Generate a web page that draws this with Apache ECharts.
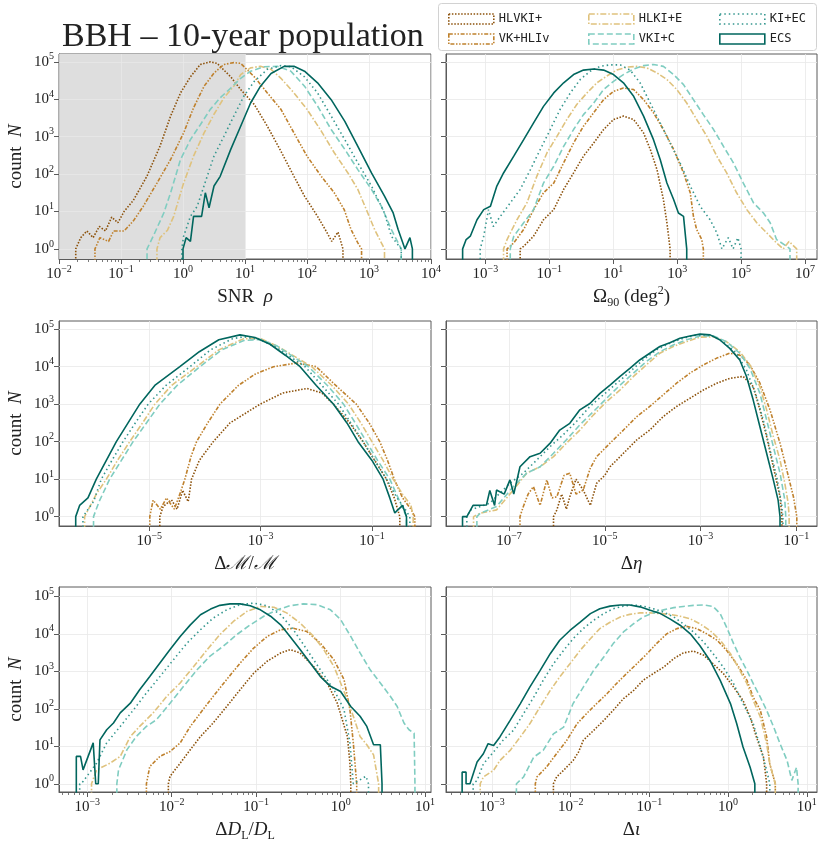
<!DOCTYPE html>
<html>
<head>
<meta charset="utf-8">
<script src="https://cdn.jsdelivr.net/npm/echarts@6.0.0/dist/echarts.min.js"></script>
<style>html,body{margin:0;padding:0;background:#fff}#main{width:822px;height:848px}</style>
</head>
<body>
<div id="main"></div>
<script>
// all values are log10: [log10(x), log10(count)]
var names  = ['HLVKI+', 'VK+HLIv', 'HLKI+E', 'VKI+C', 'KI+EC', 'ECS'];
var colors = ['#8c510a', '#bf812d', '#dfc27d', '#80cdc1', '#35978f', '#01665e'];
var dashes = [[1.5, 1.6], [4, 1.6, 1.5, 1.6, 1.5, 1.6], [6, 2, 1.5, 2], [6, 3], [1.5, 3], 'solid'];

var yTicks     = [0, 1, 2, 3, 4, 5];
var snrTicks   = [-2, -1, 0, 1, 2, 3, 4];
var omegaTicks = [-3, -1, 1, 3, 5, 7];
var mcTicks    = [-5, -3, -1];
var etaTicks   = [-7, -5, -3, -1];
var dlTicks    = [-3, -2, -1, 0, 1];
var iotaTicks  = [-3, -2, -1, 0, 1];

// SNR
var snr_HLVKI = [[-1.73,0],[-1.65,0.3],[-1.55,0.48],[-1.45,0.3],[-1.35,0.6],[-1.25,0.48],[-1.15,0.85],[-1.05,0.7],[-0.95,1.0],[-0.8,1.3],[-0.58,1.95],[-0.37,2.75],[-0.2,3.55],[-0.04,4.17],[0.12,4.6],[0.28,4.93],[0.44,5.0],[0.55,4.96],[0.77,4.6],[0.93,4.26],[1.15,3.86],[1.36,3.28],[1.58,2.61],[1.79,1.94],[1.96,1.41],[2.17,0.87],[2.3,0.5],[2.4,0.2],[2.5,0.45],[2.58,0]];
var snr_VKHLIv = [[-1.42,0],[-1.34,0.3],[-1.2,0.2],[-1.12,0.48],[-0.95,0.48],[-0.8,0.75],[-0.64,1.14],[-0.42,1.76],[-0.2,2.39],[0.01,3.1],[0.17,3.77],[0.34,4.35],[0.5,4.7],[0.66,4.93],[0.82,4.98],[0.93,4.96],[1.15,4.6],[1.36,4.17],[1.58,3.73],[1.79,3.1],[2.0,2.48],[2.23,1.94],[2.44,1.5],[2.6,1.05],[2.71,0.52],[2.82,0.16],[2.88,0]];
var snr_HLKIE = [[-0.42,0],[-0.37,0.3],[-0.25,0.5],[-0.15,0.87],[0.01,1.76],[0.17,2.48],[0.34,3.1],[0.5,3.6],[0.66,4.04],[0.82,4.35],[0.93,4.66],[1.09,4.84],[1.25,4.88],[1.42,4.8],[1.58,4.56],[1.79,4.17],[2.0,3.73],[2.23,3.15],[2.44,2.57],[2.66,2.03],[2.82,1.59],[2.98,0.96],[3.09,0.52],[3.2,0.16],[3.25,0]];
var snr_VKIC = [[-0.58,0],[-0.48,0.34],[-0.31,0.96],[-0.2,1.5],[-0.04,2.39],[0.12,2.92],[0.28,3.32],[0.44,3.73],[0.6,4.04],[0.77,4.3],[0.93,4.56],[1.09,4.75],[1.31,4.87],[1.52,4.88],[1.74,4.75],[1.96,4.35],[2.17,3.82],[2.39,3.19],[2.61,2.66],[2.82,2.12],[3.04,1.59],[3.2,1.14],[3.36,0.52],[3.47,0.16],[3.52,0]];
var snr_KIEC = [[-0.02,0],[0.01,0.34],[0.12,0.87],[0.23,1.14],[0.39,1.94],[0.5,2.48],[0.66,3.01],[0.82,3.55],[0.98,4.08],[1.15,4.48],[1.36,4.8],[1.58,4.9],[1.74,4.87],[1.96,4.6],[2.17,4.17],[2.39,3.55],[2.61,2.92],[2.82,2.3],[3.04,1.68],[3.25,0.96],[3.36,0.34],[3.52,0]];
var snr_ECS = [[0.0,0],[0.05,0.3],[0.12,0.2],[0.17,0.87],[0.3,0.87],[0.36,1.5],[0.42,1.1],[0.5,1.68],[0.6,1.94],[0.77,2.66],[0.93,3.28],[1.09,3.9],[1.25,4.35],[1.42,4.69],[1.63,4.88],[1.79,4.88],[1.96,4.75],[2.17,4.44],[2.39,3.99],[2.61,3.41],[2.82,2.74],[3.04,2.03],[3.25,1.41],[3.39,0.96],[3.47,0.52],[3.58,0],[3.66,0.3],[3.7,0]];

// Omega_90
var om_HLVKI = [[-1.91,0],[-1.8,0.07],[-1.49,0.34],[-1.18,0.78],[-0.86,1.05],[-0.55,1.59],[-0.24,2.03],[0.07,2.48],[0.39,2.83],[0.7,3.19],[1.01,3.46],[1.32,3.55],[1.64,3.46],[1.95,3.1],[2.16,2.66],[2.37,2.12],[2.57,1.32],[2.68,0.7],[2.78,0]];
var om_VKHLIv = [[-2.32,0],[-2.11,0.16],[-1.8,0.52],[-1.49,1.05],[-1.18,1.5],[-0.86,1.76],[-0.55,2.3],[-0.24,2.83],[0.07,3.28],[0.39,3.64],[0.7,3.99],[1.01,4.21],[1.32,4.3],[1.64,4.26],[1.95,3.99],[2.26,3.64],[2.57,3.19],[2.89,2.66],[3.2,2.03],[3.41,1.5],[3.51,0.87],[3.61,0.52],[3.77,0.25],[3.82,0]];
var om_HLKIE = [[-2.43,0],[-2.32,0.25],[-2.01,0.78],[-1.7,1.23],[-1.39,1.94],[-1.07,2.57],[-0.76,3.01],[-0.45,3.46],[-0.14,3.86],[0.18,4.17],[0.49,4.44],[0.8,4.62],[1.11,4.78],[1.43,4.86],[1.74,4.88],[2.05,4.84],[2.36,4.71],[2.68,4.53],[2.99,4.26],[3.3,3.9],[3.61,3.46],[3.93,3.01],[4.24,2.48],[4.55,2.03],[4.86,1.5],[5.18,1.05],[5.49,0.7],[5.8,0.43],[6.11,0.16],[6.32,0],[6.5,0.2],[6.74,0]];
var om_VKIC = [[-2.22,0],[-2.11,0.34],[-1.8,0.7],[-1.49,1.05],[-1.18,1.76],[-0.86,2.21],[-0.55,2.74],[-0.24,3.19],[0.07,3.59],[0.39,3.9],[0.7,4.26],[1.01,4.48],[1.32,4.66],[1.64,4.81],[1.95,4.9],[2.26,4.93],[2.57,4.88],[2.89,4.66],[3.2,4.39],[3.51,3.99],[3.82,3.59],[4.14,3.19],[4.45,2.74],[4.76,2.3],[5.07,1.76],[5.39,1.23],[5.7,0.96],[5.91,0.7],[6.11,0.25],[6.43,0.07],[6.53,0]];
var om_KIEC = [[-3.16,0],[-3.05,0.34],[-2.9,1.05],[-2.75,0.6],[-2.53,0.87],[-2.22,1.23],[-1.91,1.59],[-1.59,2.12],[-1.28,2.66],[-0.97,3.19],[-0.66,3.73],[-0.34,4.17],[-0.03,4.53],[0.28,4.75],[0.59,4.88],[0.91,4.92],[1.22,4.92],[1.53,4.78],[1.84,4.44],[2.16,3.9],[2.47,3.37],[2.78,2.83],[3.09,2.3],[3.41,1.68],[3.72,1.14],[4.03,0.78],[4.24,0.43],[4.4,0],[4.6,0.3],[4.75,0],[4.9,0.3],[5.0,0]];
var om_ECS = [[-3.71,0],[-3.6,0.25],[-3.47,0.34],[-3.26,0.78],[-3.05,1.05],[-2.84,1.14],[-2.64,1.68],[-2.43,2.03],[-2.11,2.48],[-1.8,2.92],[-1.49,3.37],[-1.18,3.81],[-0.86,4.17],[-0.55,4.44],[-0.24,4.66],[0.07,4.78],[0.39,4.81],[0.7,4.78],[1.01,4.66],[1.32,4.44],[1.64,4.08],[1.95,3.55],[2.26,2.92],[2.47,2.39],[2.68,1.76],[2.89,1.32],[3.04,0.96],[3.1,1.0],[3.2,0.87],[3.3,0]];

// Delta M / M
var mc_HLVKI = [[-4.81,0],[-4.75,0.27],[-4.6,0.45],[-4.5,0.2],[-4.4,0.7],[-4.3,0.4],[-4.24,1.0],[-4.1,1.5],[-3.85,2.0],[-3.55,2.5],[-3.01,3.0],[-2.6,3.3],[-2.17,3.42],[-1.9,3.3],[-1.69,3.0],[-1.4,2.5],[-1.16,2.0],[-0.95,1.5],[-0.74,1.0],[-0.6,0.5],[-0.5,0]];
var mc_VKHLIv = [[-4.99,0],[-4.93,0.44],[-4.8,0.2],[-4.69,0.5],[-4.55,0.2],[-4.45,0.6],[-4.36,1.0],[-4.25,1.6],[-4.15,2.0],[-3.95,2.5],[-3.73,3.0],[-3.4,3.5],[-3.1,3.8],[-2.77,4.0],[-2.35,4.1],[-2.0,4.0],[-1.65,3.5],[-1.28,3.0],[-1.05,2.5],[-0.86,2.0],[-0.72,1.5],[-0.6,1.0],[-0.45,0.5],[-0.3,0.2],[-0.23,0]];
var mc_HLKIE = [[-6.16,0],[-5.95,0.6],[-5.77,1.0],[-5.57,1.5],[-5.35,2.0],[-5.12,2.5],[-4.9,3.0],[-4.6,3.5],[-4.15,4.0],[-3.75,4.45],[-3.3,4.75],[-3.0,4.75],[-2.7,4.55],[-2.08,4.0],[-1.72,3.5],[-1.42,3.0],[-1.2,2.5],[-1.0,2.0],[-0.8,1.5],[-0.62,1.0],[-0.45,0.6],[-0.3,0.3],[-0.26,0]];
var mc_VKIC = [[-6.0,0],[-5.9,0.4],[-5.71,1.0],[-5.5,1.5],[-5.29,2.0],[-5.05,2.5],[-4.81,3.0],[-4.5,3.5],[-4.09,4.0],[-3.7,4.45],[-3.3,4.7],[-3.0,4.73],[-2.7,4.55],[-2.14,4.0],[-1.8,3.5],[-1.51,3.0],[-1.3,2.5],[-1.1,2.0],[-0.9,1.5],[-0.68,1.0],[-0.5,0.4],[-0.38,0]];
var mc_KIEC = [[-6.19,0],[-6.0,0.4],[-5.86,1.0],[-5.67,1.5],[-5.47,2.0],[-5.25,2.5],[-5.02,3.0],[-4.7,3.5],[-4.27,4.0],[-3.9,4.45],[-3.5,4.75],[-3.3,4.8],[-3.0,4.72],[-2.7,4.5],[-2.2,4.0],[-1.9,3.5],[-1.6,3.0],[-1.38,2.5],[-1.16,2.0],[-0.95,1.5],[-0.74,1.0],[-0.55,0.5],[-0.45,0.3],[-0.32,0]];
var mc_ECS = [[-6.32,0],[-6.25,0.3],[-6.1,0.5],[-5.95,1.0],[-5.77,1.5],[-5.59,2.0],[-5.38,2.5],[-5.17,3.0],[-4.9,3.5],[-4.45,4.0],[-4.1,4.4],[-3.75,4.72],[-3.37,4.85],[-3.1,4.78],[-2.83,4.6],[-2.55,4.3],[-2.29,4.0],[-2.0,3.5],[-1.69,3.0],[-1.45,2.5],[-1.25,2.0],[-1.0,1.5],[-0.8,1.0],[-0.68,0.5],[-0.59,0.1],[-0.45,0.3],[-0.38,0]];

// Delta eta
var eta_HLVKI = [[-6.07,0],[-6.0,0.18],[-5.9,0.6],[-5.8,0.2],[-5.73,0.53],[-5.6,1.0],[-5.45,0.71],[-5.3,0.3],[-5.17,0.89],[-5.0,1.1],[-4.89,1.33],[-4.61,1.69],[-4.33,2.05],[-4.06,2.31],[-3.78,2.67],[-3.5,2.94],[-3.22,3.16],[-2.94,3.38],[-2.66,3.56],[-2.39,3.69],[-2.11,3.74],[-1.9,3.47],[-1.76,2.85],[-1.62,2.14],[-1.48,1.33],[-1.34,0.53],[-1.3,0]];
var eta_VKHLIv = [[-6.77,0],[-6.7,0.27],[-6.6,0.6],[-6.49,0.8],[-6.35,0.3],[-6.21,0.98],[-6.1,0.5],[-6.0,0.53],[-5.85,1.1],[-5.73,1.16],[-5.6,0.6],[-5.45,0.71],[-5.3,1.3],[-5.17,1.6],[-4.89,1.96],[-4.61,2.31],[-4.33,2.67],[-4.06,2.94],[-3.78,3.25],[-3.5,3.56],[-3.22,3.83],[-2.94,4.05],[-2.66,4.23],[-2.39,4.36],[-2.18,4.31],[-1.97,4.05],[-1.76,3.56],[-1.55,2.85],[-1.34,1.96],[-1.2,1.25],[-1.06,0.53],[-0.99,0]];
var eta_HLKIE = [[-7.74,0],[-7.6,0.09],[-7.26,0.18],[-6.91,0.71],[-6.63,1.16],[-6.35,1.33],[-6.07,1.6],[-5.8,1.96],[-5.52,2.31],[-5.24,2.71],[-4.96,3.07],[-4.68,3.38],[-4.4,3.74],[-4.13,4.05],[-3.85,4.36],[-3.57,4.54],[-3.29,4.67],[-3.01,4.79],[-2.73,4.8],[-2.46,4.67],[-2.18,4.4],[-1.97,4.05],[-1.76,3.47],[-1.62,2.85],[-1.48,2.14],[-1.34,1.51],[-1.24,0.89],[-1.17,0.36],[-1.15,0]];
var eta_VKIC = [[-7.67,0],[-7.6,0.09],[-7.26,0.27],[-6.91,0.8],[-6.63,1.16],[-6.35,1.33],[-6.07,1.69],[-5.8,2.05],[-5.52,2.45],[-5.24,2.8],[-4.96,3.16],[-4.68,3.51],[-4.4,3.83],[-4.13,4.14],[-3.85,4.4],[-3.57,4.58],[-3.29,4.72],[-3.01,4.82],[-2.73,4.82],[-2.46,4.67],[-2.18,4.36],[-1.97,3.96],[-1.76,3.29],[-1.62,2.58],[-1.48,1.87],[-1.34,1.16],[-1.24,0.44],[-1.22,0]];
var eta_KIEC = [[-7.88,0],[-7.8,0.18],[-7.4,0.36],[-6.98,0.89],[-6.7,1.16],[-6.42,1.51],[-6.14,1.87],[-5.87,2.18],[-5.59,2.54],[-5.31,2.94],[-5.03,3.25],[-4.75,3.56],[-4.47,3.87],[-4.2,4.18],[-3.92,4.45],[-3.64,4.63],[-3.36,4.76],[-3.08,4.85],[-2.8,4.85],[-2.53,4.67],[-2.25,4.36],[-2.04,3.91],[-1.83,3.2],[-1.69,2.58],[-1.55,1.78],[-1.41,1.07],[-1.31,0.36],[-1.28,0]];
var eta_ECS = [[-7.97,0],[-7.88,0],[-7.75,0.3],[-7.47,0.31],[-7.4,0.7],[-7.3,0.3],[-7.26,0.71],[-7.1,0.6],[-6.98,0.98],[-6.9,0.6],[-6.77,1.33],[-6.56,1.6],[-6.35,1.69],[-6.14,1.96],[-5.94,2.31],[-5.73,2.49],[-5.52,2.85],[-5.31,3.02],[-5.1,3.29],[-4.89,3.51],[-4.68,3.74],[-4.47,3.96],[-4.27,4.18],[-4.06,4.36],[-3.85,4.54],[-3.64,4.64],[-3.43,4.76],[-3.22,4.82],[-3.01,4.87],[-2.8,4.85],[-2.6,4.72],[-2.39,4.49],[-2.18,4.18],[-2.04,3.74],[-1.9,3.11],[-1.76,2.4],[-1.62,1.69],[-1.48,0.98],[-1.38,0.44],[-1.34,0]];

// Delta D_L / D_L
var dl_HLVKI = [[-2.04,0],[-2.02,0.2],[-1.9,0.55],[-1.78,0.91],[-1.66,1.26],[-1.51,1.62],[-1.35,2.06],[-1.19,2.51],[-1.03,2.95],[-0.87,3.27],[-0.71,3.49],[-0.6,3.58],[-0.48,3.49],[-0.32,3.13],[-0.16,2.69],[-0.04,2.15],[0.08,1.26],[0.11,0.55],[0.12,0]];
var dl_VKHLIv = [[-2.3,0],[-2.26,0.46],[-2.14,0.73],[-2.02,0.86],[-1.9,1.09],[-1.78,1.53],[-1.66,1.89],[-1.51,2.33],[-1.35,2.78],[-1.19,3.22],[-1.03,3.62],[-0.87,3.93],[-0.71,4.11],[-0.56,4.15],[-0.4,4.06],[-0.24,3.75],[-0.08,3.31],[0.04,2.78],[0.11,1.98],[0.15,1.09],[0.19,0]];
var dl_HLKIE = [[-2.95,0],[-2.89,0.37],[-2.73,0.55],[-2.61,0.73],[-2.49,1.26],[-2.38,1.53],[-2.22,1.89],[-2.06,2.33],[-1.9,2.69],[-1.74,3.13],[-1.58,3.58],[-1.43,3.98],[-1.27,4.33],[-1.11,4.6],[-0.95,4.73],[-0.79,4.71],[-0.64,4.56],[-0.48,4.29],[-0.32,3.93],[-0.2,3.58],[-0.08,3.13],[0.0,2.69],[0.08,2.24],[0.15,1.8],[0.23,1.26],[0.31,1.04],[0.39,0.77],[0.45,0]];
var dl_VKIC = [[-2.65,0],[-2.63,0.37],[-2.53,0.91],[-2.42,1.26],[-2.3,1.53],[-2.18,1.71],[-2.02,2.15],[-1.86,2.6],[-1.7,3.04],[-1.55,3.4],[-1.39,3.67],[-1.23,3.98],[-1.07,4.24],[-0.91,4.47],[-0.75,4.64],[-0.6,4.75],[-0.44,4.8],[-0.28,4.78],[-0.12,4.64],[0.0,4.38],[0.12,3.93],[0.23,3.49],[0.35,3.04],[0.47,2.69],[0.59,2.33],[0.67,2.06],[0.75,1.62],[0.81,1.44],[0.87,1.35],[0.88,0]];
var dl_KIEC = [[-3.09,0],[-3.05,0.06],[-2.89,0.55],[-2.77,1.09],[-2.61,1.53],[-2.45,1.98],[-2.3,2.42],[-2.14,2.86],[-1.98,3.31],[-1.82,3.75],[-1.66,4.11],[-1.51,4.42],[-1.35,4.64],[-1.19,4.78],[-1.03,4.82],[-0.87,4.75],[-0.71,4.51],[-0.56,4.11],[-0.4,3.58],[-0.24,3.04],[-0.08,2.51],[0.04,1.98],[0.11,1.09],[0.15,0],[0.3,0.2],[0.33,0]];
var dl_ECS = [[-3.13,0],[-3.13,0.73],[-3.08,0.73],[-3.05,0.37],[-2.99,0.73],[-2.93,1.09],[-2.9,0],[-2.87,0],[-2.85,1.17],[-2.77,1.44],[-2.69,1.62],[-2.61,1.89],[-2.49,2.15],[-2.38,2.51],[-2.26,2.86],[-2.14,3.22],[-2.02,3.58],[-1.9,3.93],[-1.78,4.24],[-1.66,4.51],[-1.54,4.66],[-1.43,4.76],[-1.31,4.8],[-1.19,4.8],[-1.07,4.75],[-0.95,4.64],[-0.83,4.47],[-0.71,4.24],[-0.6,3.93],[-0.48,3.58],[-0.36,3.22],[-0.24,2.86],[-0.12,2.6],[0.0,2.46],[0.12,2.06],[0.23,1.8],[0.31,1.53],[0.39,1.04],[0.47,1.04],[0.49,0]];

// Delta iota
var io_HLVKI = [[-2.22,0],[-2.18,0.18],[-2.09,0.36],[-1.97,0.62],[-1.9,0.85],[-1.84,1.16],[-1.71,1.42],[-1.58,1.69],[-1.46,1.96],[-1.33,2.27],[-1.2,2.49],[-1.08,2.76],[-0.95,2.94],[-0.82,3.11],[-0.69,3.34],[-0.57,3.49],[-0.44,3.54],[-0.31,3.43],[-0.19,3.2],[-0.06,2.94],[0.07,2.58],[0.19,2.22],[0.28,1.78],[0.36,1.25],[0.45,0.71],[0.49,0]];
var io_VKHLIv = [[-2.45,0],[-2.43,0.18],[-2.31,0.44],[-2.18,0.8],[-2.05,1.16],[-1.92,1.6],[-1.8,1.87],[-1.67,2.14],[-1.54,2.4],[-1.42,2.67],[-1.29,2.94],[-1.16,3.2],[-1.03,3.47],[-0.91,3.74],[-0.78,4.0],[-0.65,4.14],[-0.53,4.2],[-0.4,4.14],[-0.27,4.0],[-0.14,3.83],[-0.02,3.56],[0.11,3.2],[0.24,2.76],[0.32,2.31],[0.41,1.96],[0.49,1.25],[0.53,0.53],[0.6,0]];
var io_HLKIE = [[-3.15,0],[-3.11,0.18],[-2.98,0.36],[-2.9,0.62],[-2.77,0.89],[-2.64,1.25],[-2.52,1.6],[-2.39,2.05],[-2.26,2.49],[-2.14,2.85],[-2.01,3.2],[-1.88,3.56],[-1.75,3.87],[-1.63,4.14],[-1.5,4.31],[-1.37,4.45],[-1.25,4.52],[-1.12,4.56],[-0.99,4.56],[-0.86,4.54],[-0.74,4.52],[-0.61,4.47],[-0.48,4.4],[-0.36,4.27],[-0.23,4.09],[-0.1,3.83],[0.03,3.47],[0.15,3.02],[0.24,2.67],[0.32,2.22],[0.41,1.78],[0.49,1.07],[0.53,0.53],[0.6,0]];
var io_VKIC = [[-2.69,0],[-2.6,0.18],[-2.47,0.71],[-2.35,0.89],[-2.22,1.33],[-2.09,1.51],[-1.97,2.14],[-1.84,2.58],[-1.71,3.02],[-1.58,3.38],[-1.46,3.74],[-1.33,4.05],[-1.2,4.27],[-1.08,4.45],[-0.95,4.56],[-0.82,4.64],[-0.69,4.7],[-0.57,4.73],[-0.44,4.76],[-0.31,4.77],[-0.19,4.73],[-0.1,4.54],[-0.02,4.18],[0.07,3.74],[0.15,3.38],[0.24,3.02],[0.32,2.67],[0.41,2.31],[0.49,1.96],[0.58,1.51],[0.66,1.07],[0.75,0.62],[0.81,0.09],[0.87,0.44],[0.89,0]];
var io_KIEC = [[-3.24,0],[-3.19,0.09],[-3.11,0.53],[-2.98,0.85],[-2.86,1.16],[-2.73,1.42],[-2.6,1.87],[-2.47,2.31],[-2.35,2.76],[-2.22,3.2],[-2.09,3.56],[-1.97,3.87],[-1.84,4.14],[-1.71,4.36],[-1.58,4.54],[-1.46,4.67],[-1.33,4.74],[-1.2,4.77],[-1.08,4.74],[-0.95,4.67],[-0.82,4.58],[-0.69,4.45],[-0.57,4.27],[-0.44,4.05],[-0.31,3.78],[-0.19,3.47],[-0.06,3.11],[0.07,2.67],[0.19,2.14],[0.32,1.6],[0.41,0.98],[0.49,0.36],[0.53,0]];
var io_ECS = [[-3.38,0],[-3.38,0.31],[-3.33,0.31],[-3.33,0],[-3.28,0],[-3.19,0.58],[-3.11,0.8],[-3.05,1.07],[-2.98,1.02],[-2.9,1.25],[-2.77,1.69],[-2.64,2.14],[-2.52,2.58],[-2.39,3.02],[-2.26,3.47],[-2.14,3.83],[-2.01,4.09],[-1.88,4.31],[-1.75,4.54],[-1.63,4.67],[-1.5,4.74],[-1.37,4.77],[-1.25,4.77],[-1.12,4.72],[-0.99,4.63],[-0.86,4.54],[-0.74,4.4],[-0.61,4.23],[-0.48,4.0],[-0.36,3.69],[-0.23,3.29],[-0.1,2.76],[0.03,2.14],[0.11,1.6],[0.19,0.98],[0.28,0.44],[0.34,0]];

var SERIF = 'Liberation Serif';
var INK = '#222';
var SPINE = '#5a5a5a';

var panels = [
    {left: 59,  top: 54,  xMin: -2,     xMax: 4,      yMin: -0.27, yMax: 5.21, ticks: snrTicks,   minor: true,  ylab: true,
     name: '{t|SNR  }{i|ρ}', shade: [-2, 1],
     data: [snr_HLVKI, snr_VKHLIv, snr_HLKIE, snr_VKIC, snr_KIEC, snr_ECS]},
    {left: 446, top: 54,  xMin: -4.23,  xMax: 7.375,  yMin: -0.27, yMax: 5.21, ticks: omegaTicks, minor: false, ylab: false,
     name: '{t|Ω}{sub|90}{t| (deg}{sup|2}{t|)}',
     data: [om_HLVKI, om_VKHLIv, om_HLKIE, om_VKIC, om_KIEC, om_ECS]},
    {left: 59,  top: 321, xMin: -6.62,  xMax: 0.06,   yMin: -0.25, yMax: 5.22, ticks: mcTicks,    minor: false, ylab: true,
     name: '{t|Δ}{i|ℳ}{t|/}{i|ℳ}',
     data: [mc_HLVKI, mc_VKHLIv, mc_HLKIE, mc_VKIC, mc_KIEC, mc_ECS]},
    {left: 446, top: 321, xMin: -8.315, xMax: -0.568, yMin: -0.25, yMax: 5.22, ticks: etaTicks,   minor: false, ylab: false,
     name: '{t|Δ}{i|η}',
     data: [eta_HLVKI, eta_VKHLIv, eta_HLKIE, eta_VKIC, eta_KIEC, eta_ECS]},
    {left: 59,  top: 587, xMin: -3.335, xMax: 1.07,   yMin: -0.22, yMax: 5.25, ticks: dlTicks,    minor: true,  ylab: true,
     name: '{t|Δ}{i|D}{sub|L}{t|/}{i|D}{sub|L}',
     data: [dl_HLVKI, dl_VKHLIv, dl_HLKIE, dl_VKIC, dl_KIEC, dl_ECS]},
    {left: 446, top: 587, xMin: -3.585, xMax: 1.13,   yMin: -0.22, yMax: 5.25, ticks: iotaTicks,  minor: true,  ylab: false,
     name: '{t|Δ}{i|ι}',
     data: [io_HLVKI, io_VKHLIv, io_HLKIE, io_VKIC, io_KIEC, io_ECS]}
];

var nameRich = {
    t:   {fontFamily: SERIF, fontSize: 19, color: INK, lineHeight: 24},
    i:   {fontFamily: SERIF, fontSize: 19, fontStyle: 'italic', color: INK, lineHeight: 24},
    sub: {fontFamily: SERIF, fontSize: 12, color: INK, verticalAlign: 'bottom', lineHeight: 24},
    sup: {fontFamily: SERIF, fontSize: 12, color: INK, verticalAlign: 'top', lineHeight: 12}
};

function pow10(v){
    var e = Math.round(v);
    return '10{s|' + (e < 0 ? '\u2212' + (-e) : e) + '}';
}
var labelStyle = {
    fontFamily: SERIF, fontSize: 15, color: INK, lineHeight: 20, formatter: pow10,
    rich: {s: {fontFamily: SERIF, fontSize: 10, color: INK, verticalAlign: 'top', lineHeight: 10}}
};

function minorTicks(lo, hi){
    var out = [];
    for (var n = Math.floor(lo); n <= Math.ceil(hi); n++) {
        for (var k = 2; k <= 9; k++) {
            var v = n + Math.log10(k);
            if (v > lo && v < hi) out.push(v);
        }
    }
    return out;
}

// histogram edges fall to zero counts (below the log axis)
function withDrops(arr){
    return [[arr[0][0], -1]].concat(arr, [[arr[arr.length - 1][0], -1]]);
}

var grids = [], xAxes = [], yAxes = [], series = [];
panels.forEach(function(p, i){
    grids.push({left: p.left, top: p.top, width: i % 2 ? 371 : 372, height: 205,
        show: true, borderColor: SPINE, borderWidth: 1, backgroundColor: 'transparent'});

    xAxes.push({
        type: 'value', gridIndex: i, min: p.xMin, max: p.xMax, position: 'bottom',
        axisLine: {show: true, onZero: false, lineStyle: {color: SPINE, width: 1}},
        axisTick: {show: true, length: 5, customValues: p.ticks, lineStyle: {color: SPINE}},
        axisLabel: Object.assign({customValues: p.ticks, margin: 5}, labelStyle),
        splitLine: {show: false},
        name: p.name, nameLocation: 'middle', nameGap: 26,
        nameTextStyle: {rich: nameRich}
    });
    xAxes.push({
        type: 'value', gridIndex: i, min: p.xMin, max: p.xMax, position: 'bottom',
        axisLine: {show: false, onZero: false}, axisLabel: {show: false}, splitLine: {show: false},
        axisTick: {show: p.minor, length: 3, customValues: p.minor ? minorTicks(p.xMin, p.xMax) : [],
                   lineStyle: {color: SPINE, width: 0.8}}
    });
    yAxes.push({
        type: 'value', gridIndex: i, min: p.yMin, max: p.yMax,
        axisLine: {show: true, onZero: false, lineStyle: {color: SPINE, width: 1}},
        axisTick: {show: true, length: 5, customValues: yTicks, lineStyle: {color: SPINE}},
        axisLabel: Object.assign({show: p.ylab, customValues: yTicks, margin: 5}, labelStyle),
        splitLine: {show: false},
        name: p.ylab ? '{t|count  }{i|N}' : '', nameLocation: 'middle', nameGap: 31,
        nameTextStyle: {rich: nameRich}
    });

    // grid lines and the shaded SNR<10 band
    var helper = {
        type: 'line', name: '_grid' + i, xAxisIndex: 2 * i, yAxisIndex: i, data: [], silent: true,
        markLine: {
            silent: true, symbol: 'none', z: 1, animation: false,
            label: {show: false},
            lineStyle: {color: '#e8e8e8', type: 'solid', width: 0.8},
            emphasis: {disabled: true},
            data: p.ticks.map(function(v){ return {xAxis: v}; })
                   .concat(yTicks.map(function(v){ return {yAxis: v}; }))
        }
    };
    if (p.shade) {
        helper.markArea = {
            silent: true, z: 0, animation: false,
            itemStyle: {color: '#dedede'},
            data: [[{xAxis: p.shade[0]}, {xAxis: p.shade[1]}]]
        };
    }
    series.push(helper);

    p.data.forEach(function(arr, k){
        series.push({
            type: 'line', name: names[k], xAxisIndex: 2 * i, yAxisIndex: i,
            data: withDrops(arr), showSymbol: false, symbol: 'none', z: 3,
            lineStyle: {color: colors[k], width: 1.6, type: dashes[k], cap: 'butt'},
            itemStyle: {color: colors[k]},
            emphasis: {disabled: true}
        });
    });
});

var legendCols = [443, 583, 714];
var legends = legendCols.map(function(x, c){
    return {
        orient: 'vertical', left: x, top: 8, itemWidth: 45, itemHeight: 10, itemGap: 8,
        selectedMode: false,
        textStyle: {fontFamily: 'DejaVu Sans Mono', fontSize: 12, color: INK},
        data: [names[2 * c], names[2 * c + 1]].map(function(n){
            var k = names.indexOf(n);
            return {name: n, icon: 'rect',
                itemStyle: {color: 'rgba(0,0,0,0)', borderColor: colors[k], borderWidth: 1.6,
                            borderType: dashes[k]}};
        })
    };
});

var chart = echarts.init(document.getElementById('main'));
chart.setOption({
    animation: false,
    backgroundColor: '#fff',
    title: {text: 'BBH \u2013 10-year population', left: 57, top: 15,
            textStyle: {fontFamily: SERIF, fontSize: 34, fontWeight: 'normal', color: INK}},
    graphic: [{type: 'rect', left: 438, top: 3, z: 0,
               shape: {width: 378, height: 47, r: 3},
               style: {fill: '#fff', stroke: '#d2d2d2', lineWidth: 1}}],
    legend: legends,
    grid: grids,
    xAxis: xAxes,
    yAxis: yAxes,
    series: series
});
</script>
</body>
</html>
